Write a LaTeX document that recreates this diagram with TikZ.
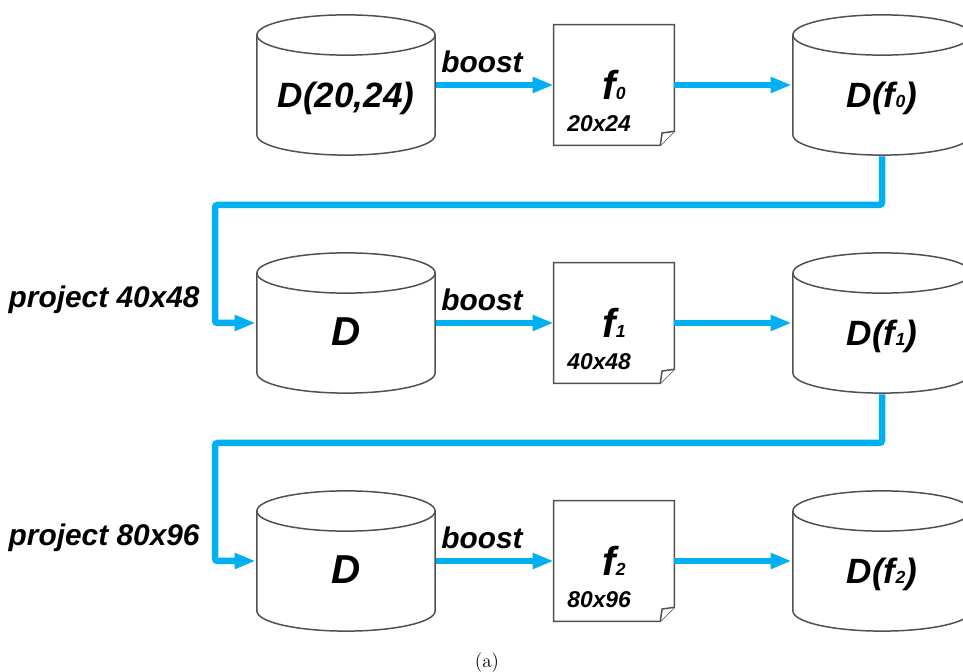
\documentclass[tikz,border=0pt]{standalone}
\usepackage{fontspec}
\newfontfamily\arialfont{Liberation Sans}
\usetikzlibrary{arrows.meta}
\definecolor{flowblue}{RGB}{0,176,240}
\definecolor{edgegray}{RGB}{80,80,80}
\newcommand{\smallsub}[1]{{\fontsize{10}{10}\selectfont #1}}
\tikzset{
  db/.style={rectangle, minimum width=3.6cm, minimum height=2.84cm, inner sep=0pt,
    text height=30pt, text depth=4pt,
    font=\arialfont\bfseries\itshape\fontsize{20}{20}\selectfont,
    path picture={
      \draw[edgegray, line width=0.85pt]
        ([xshift=0.5pt,yshift=-0.42cm]path picture bounding box.north west)
        -- ([xshift=0.5pt,yshift=0.42cm]path picture bounding box.south west)
        arc[start angle=180, end angle=360, x radius=1.8cm-0.5pt, y radius=0.42cm-0.5pt]
        -- ([xshift=-0.5pt,yshift=-0.42cm]path picture bounding box.north east);
      \draw[edgegray, line width=0.85pt]
        ([yshift=-0.42cm]path picture bounding box.north)
        ellipse[x radius=1.8cm-0.5pt, y radius=0.42cm-0.5pt];
    }},
  docbox/.style={rectangle, minimum size=2.4cm, inner sep=0pt,
    font=\arialfont\bfseries\itshape\fontsize{23}{23}\selectfont},
  docline/.style={draw=edgegray, line width=0.85pt, fill=white},
  lbl/.style={inner sep=0pt, font=\arialfont\bfseries\itshape\fontsize{17}{17}\selectfont},
  sizelbl/.style={inner sep=0pt, anchor=base west,
    font=\arialfont\bfseries\itshape\fontsize{13}{13}\selectfont},
  flow/.style={draw=flowblue, line width=3.7pt, rounded corners=1.5pt,
    -{Triangle[length=12pt,width=8.5pt]}},
}
\begin{document}
\begin{tikzpicture}[x=0.02cm, y=0.02cm]
\useasboundingbox (0,0) rectangle (963,672);
% row 1
\node[db](c0) at (346,587) {D(20,24)};
\node[docbox](f0) at (614,587) {};
\draw[docline] (f0.north west) -- (f0.north east) -- ([yshift=8pt]f0.south east)
  -- ([xshift=-8pt]f0.south east) -- (f0.south west) -- cycle;
\draw[docline] ([xshift=-8pt]f0.south east) -- ([xshift=-7pt,yshift=7pt]f0.south east)
  -- ([yshift=8pt]f0.south east);
\node[docbox](t0) at (614,587) {f\smallsub{0}};
\node[db](r0) at (882,587) {D(f\smallsub{0})};
%
% row 2
\node[db](d1) at (346,349) {\fontsize{23}{23}\selectfont D};
\node[docbox](f1) at (614,349) {};
\draw[docline] (f1.north west) -- (f1.north east) -- ([yshift=8pt]f1.south east)
  -- ([xshift=-8pt]f1.south east) -- (f1.south west) -- cycle;
\draw[docline] ([xshift=-8pt]f1.south east) -- ([xshift=-7pt,yshift=7pt]f1.south east)
  -- ([yshift=8pt]f1.south east);
\node[docbox](t1) at (614,349) {f\smallsub{1}};
\node[db](r1) at (882,349) {D(f\smallsub{1})};
%
% row 3
\node[db](d2) at (346,111) {\fontsize{23}{23}\selectfont D};
\node[docbox](f2) at (614,111) {};
\draw[docline] (f2.north west) -- (f2.north east) -- ([yshift=8pt]f2.south east)
  -- ([xshift=-8pt]f2.south east) -- (f2.south west) -- cycle;
\draw[docline] ([xshift=-8pt]f2.south east) -- ([xshift=-7pt,yshift=7pt]f2.south east)
  -- ([yshift=8pt]f2.south east);
\node[docbox](t2) at (614,111) {f\smallsub{2}};
\node[db](r2) at (882,111) {D(f\smallsub{2})};
%
\node[sizelbl](s0) at (567,540) {20x24};
\node[sizelbl](s1) at (567,302) {40x48};
\node[sizelbl](s2) at (567,64) {80x96};
%
\node[lbl,anchor=base](b0) at (482,599) {boost};
\node[lbl,anchor=base](b1) at (482,361) {boost};
\node[lbl,anchor=base](b2) at (482,123) {boost};
\node[lbl,anchor=base east](p1) at (200,364) {project 40x48};
\node[lbl,anchor=base east](p2) at (200,126) {project 80x96};
%
\coordinate (k0) at (215,467);
\coordinate (k1) at (215,229);
%
\draw[flow] (c0.east) -- (f0.west);
\draw[flow] (f0.east) -- (r0.west);
\draw[flow] (r0.south) |- (k0) |- (d1.west);
\draw[flow] (d1.east) -- (f1.west);
\draw[flow] (f1.east) -- (r1.west);
\draw[flow] (r1.south) |- (k1) |- (d2.west);
\draw[flow] (d2.east) -- (f2.west);
\draw[flow] (f2.east) -- (r2.west);
%
\node[inner sep=0pt,font=\fontsize{11}{11}\selectfont](cap) at (487,9) {(a)};
\end{tikzpicture}
\end{document}
